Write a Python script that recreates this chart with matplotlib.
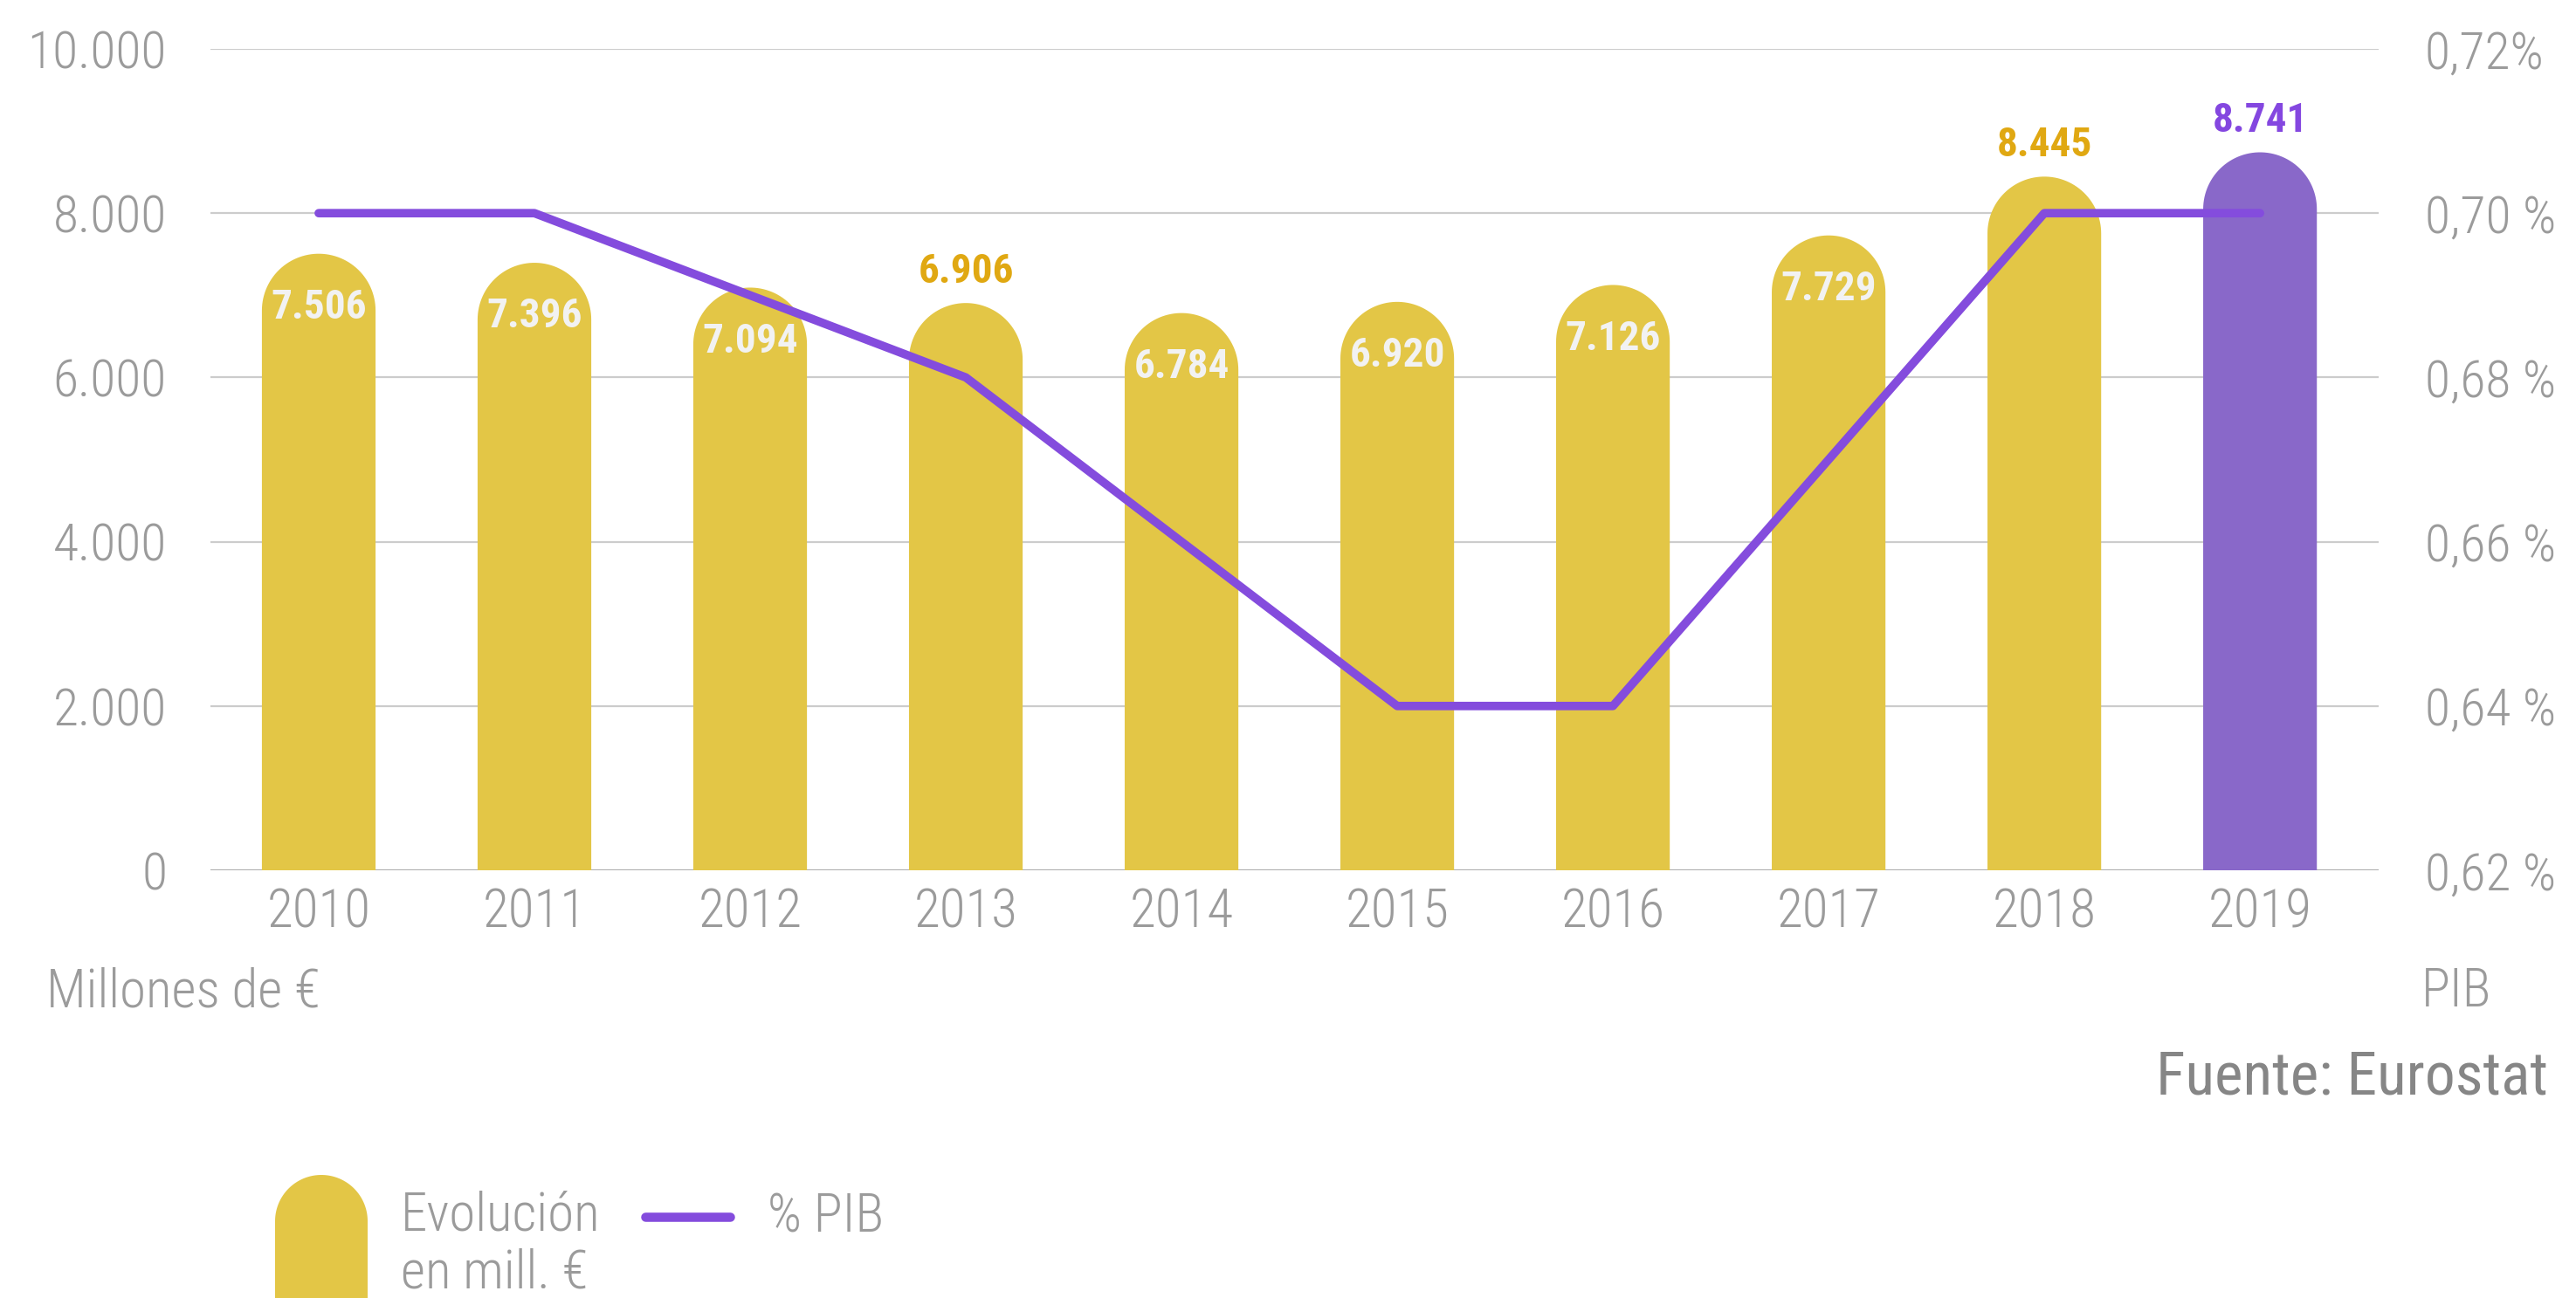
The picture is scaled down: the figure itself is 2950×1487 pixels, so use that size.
"""Gasto en millones de euros y % del PIB, 2010-2019 (barras con tope redondeado)."""

import numpy as np
import matplotlib
matplotlib.use("Agg")
import matplotlib.pyplot as plt
from matplotlib import font_manager
from matplotlib.patches import Polygon

# ---- data -------------------------------------------------------------
years = ["2010", "2011", "2012", "2013", "2014", "2015", "2016", "2017", "2018", "2019"]
gasto = [7506, 7396, 7094, 6906, 6784, 6920, 7126, 7729, 8445, 8741]
gasto_labels = ["7.506", "7.396", "7.094", "6.906", "6.784", "6.920", "7.126", "7.729", "8.445", "8.741"]
label_above = [False, False, False, True, False, False, False, False, True, True]
pib = [0.70, 0.70, 0.69, 0.68, 0.66, 0.64, 0.64, 0.67, 0.70, 0.70]

left_ticks = [0, 2000, 4000, 6000, 8000, 10000]
left_ticklabels = ["0", "2.000", "4.000", "6.000", "8.000", "10.000"]
right_ticks = [0.62, 0.64, 0.66, 0.68, 0.70, 0.72]
right_ticklabels = ["0,62 %", "0,64 %", "0,66 %", "0,68 %", "0,70 %", "0,72%"]

# ---- style ------------------------------------------------------------
YELLOW = "#E3C646"
PURPLE_BAR = "#8968C9"
PURPLE_LINE = "#844CDD"
GOLD_TEXT = "#E0A812"
PURPLE_TEXT = "#8447E0"
GREY = "#9B9B9B"
GREY_DARK = "#868686"
GRID = "#CCCCCC"

# pick a narrow face if one is installed, the original uses a condensed font
names = {f.name for f in font_manager.fontManager.ttflist}
FONT = "DejaVu Sans"
for cand in ("Roboto Condensed", "Liberation Sans Narrow", "DejaVu Sans Condensed",
             "Open Sans Condensed", "Noto Sans"):
    if cand in names:
        FONT = cand
        break
plt.rcParams["font.family"] = [FONT, "DejaVu Sans"]
plt.rcParams["font.weight"] = "light"

W, H, DPI = 2950, 1487, 200
fig = plt.figure(figsize=(W / DPI, H / DPI), dpi=DPI)

# axes box measured in pixels of the reference
ax_l, ax_r, ax_t, ax_b = 241, 2724, 56, 997
ax = fig.add_axes([ax_l / W, (H - ax_b) / H, (ax_r - ax_l) / W, (ax_b - ax_t) / H])
ax.set_xlim(-0.502, 9.55)
ax.set_ylim(0, 10000)
x = np.arange(len(years))


def rounded_bar(axis, xc, top, width, color, px_x, px_y, base=0.0, zorder=2):
    """Bar whose top is a half circle (in pixels), drawn as a polygon."""
    half_w = width / 2
    cap_h = half_w * px_x / px_y
    t = np.linspace(0, np.pi, 60)
    arc = list(zip(xc + half_w * np.cos(t), top - cap_h + cap_h * np.sin(t)))
    verts = [(xc + half_w, base)] + arc + [(xc - half_w, base)]
    axis.add_patch(Polygon(verts, closed=True, facecolor=color, edgecolor="none", zorder=zorder))


px_x = (ax_r - ax_l) / (9.55 + 0.502)
px_y = (ax_b - ax_t) / 10000
bar_w = 0.527
for i, v in enumerate(gasto):
    color = PURPLE_BAR if i == len(gasto) - 1 else YELLOW
    rounded_bar(ax, x[i], v, bar_w, color, px_x, px_y)
    if label_above[i]:
        tc = PURPLE_TEXT if i == len(gasto) - 1 else GOLD_TEXT
        ax.annotate(gasto_labels[i], (x[i], v), xytext=(0, 13), textcoords="offset points",
                    ha="center", va="center", fontsize=17, fontweight="bold",
                    color=tc, zorder=5)
    else:
        ax.annotate(gasto_labels[i], (x[i], v), xytext=(0, -22), textcoords="offset points",
                    ha="center", va="center", fontsize=17, fontweight="bold",
                    color="#F2F2F2", zorder=5)

ax.set_yticks(left_ticks)
ax.set_yticklabels(left_ticklabels)
ax.set_xticks(x)
ax.set_xticklabels(years)
ax.grid(axis="y", color=GRID, linewidth=0.8, zorder=0)
ax.set_axisbelow(True)
ax.axhline(0, color="#AAAAAA", linewidth=1.0, zorder=1)
ax.tick_params(axis="y", length=0, pad=18, labelsize=21.5, labelcolor=GREY)
ax.tick_params(axis="x", length=0, pad=7, labelsize=22, labelcolor=GREY)
for s in ax.spines.values():
    s.set_visible(False)

# % PIB line on the right axis
ax2 = ax.twinx()
ax2.set_ylim(0.62, 0.72)
ax2.plot(x, pib, color=PURPLE_LINE, linewidth=3.5, solid_capstyle="round", zorder=4)
ax2.set_yticks(right_ticks)
ax2.set_yticklabels(right_ticklabels)
ax2.tick_params(axis="y", length=0, pad=19, labelsize=21.5, labelcolor=GREY)
for s in ax2.spines.values():
    s.set_visible(False)

# overlay in pixel units for the captions and the hand-made legend
ov = fig.add_axes([0, 0, 1, 1])
ov.set_xlim(0, W)
ov.set_ylim(0, H)
ov.axis("off")
ov.patch.set_visible(False)

ov.text(53, H - 1136, "Millones de €", fontsize=22, color=GREY, ha="left", va="center")
ov.text(2773, H - 1136, "PIB", fontsize=22, color=GREY, ha="left", va="center")
ov.text(2918, H - 1234, "Fuente: Eurostat", fontsize=25, color=GREY_DARK,
        fontweight="normal", ha="right", va="center")

rounded_bar(ov, 368, H - 1346, 106, YELLOW, 1, 1, base=-10)
ov.text(459, H - 1392, "Evolución", fontsize=22, color=GREY, ha="left", va="center")
ov.text(459, H - 1458, "en mill. €", fontsize=22, color=GREY, ha="left", va="center")
ov.plot([739, 836], [H - 1394, H - 1394], color=PURPLE_LINE, linewidth=3.8, solid_capstyle="round")
ov.text(879, H - 1394, "% PIB", fontsize=22, color=GREY, ha="left", va="center")

fig.savefig("out.png", dpi=DPI)
